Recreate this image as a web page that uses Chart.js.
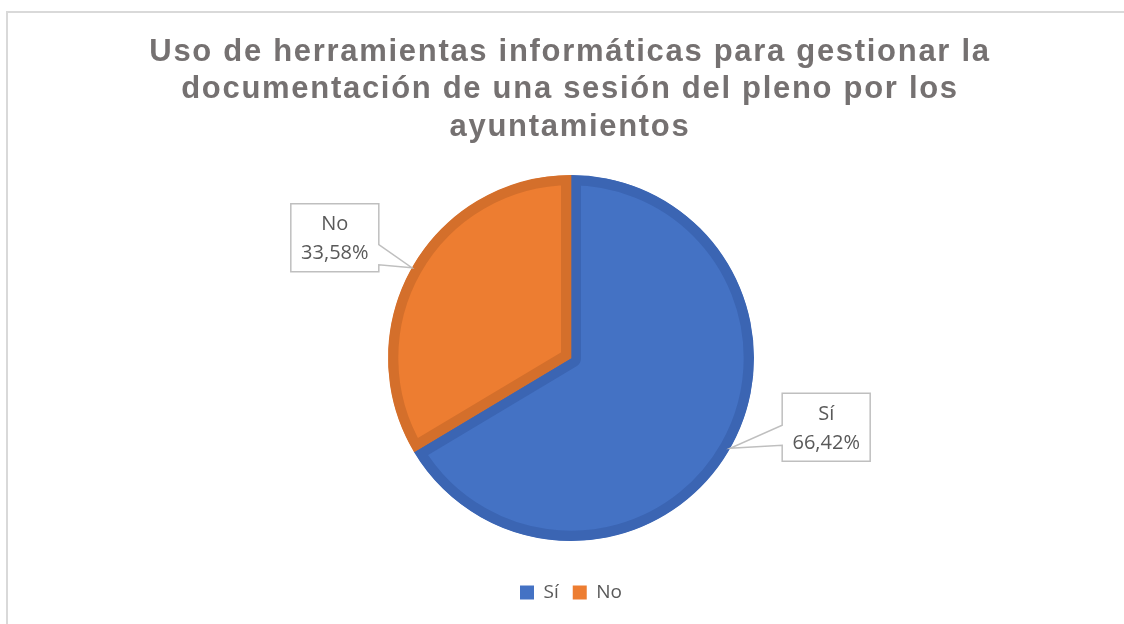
<!DOCTYPE html>
<html>
<head>
<meta charset="utf-8">
<title>Uso de herramientas informáticas</title>
<script src="https://cdn.jsdelivr.net/npm/chart.js@4.4.1/dist/chart.umd.min.js"></script>
<style>
  html, body { margin: 0; padding: 0; background: #fff; }
  canvas { display: block; }
</style>
</head>
<body>
<canvas id="pieChart" width="1124" height="624"></canvas>
<script>
// data
const categories = ['Sí', 'No'];
const percentages = [66.42, 33.58];
const titleLines = [
    'Uso de herramientas informáticas para gestionar la',
    'documentación de una sesión del pleno por los',
    'ayuntamientos'
];

const fillColors = ['#4472C4', '#ED7D31'];
const edgeColors = ['#3B65B3', '#D46F2B'];
const textGrey = '#595959';

// where each callout box sits, relative to the point on the pie edge it points at
const calloutOffsets = [
    { dx: 96, dy: -21 },
    { dx: -77, dy: -30 }
];

function fmtPct(v) {
    return v.toFixed(2).replace('.', ',') + '%';
}

const frameAndTitle = {
    id: 'frameAndTitle',
    beforeDraw(chart) {
        const ctx = chart.ctx;
        ctx.save();
        ctx.fillStyle = '#ffffff';
        ctx.fillRect(0, 0, chart.width, chart.height);
        ctx.strokeStyle = '#d9d9d9';
        ctx.lineWidth = 2;
        ctx.strokeRect(7, 12, chart.width + 20, chart.height + 20);

        ctx.font = 'bold 31px "Liberation Sans", Arial, sans-serif';
        ctx.fillStyle = '#757171';
        ctx.textAlign = 'center';
        ctx.textBaseline = 'middle';
        ctx.letterSpacing = '1.7px';
        titleLines.forEach((line, i) => {
            ctx.fillText(line, 570, 52 + i * 37.5);
        });
        ctx.restore();
    }
};

const callouts = {
    id: 'callouts',
    afterDatasetsDraw(chart) {
        const ctx = chart.ctx;
        const meta = chart.getDatasetMeta(0);
        const w = 88, h = 68;
        meta.data.forEach((arc, i) => {
            const mid = (arc.startAngle + arc.endAngle) / 2;
            const tipX = arc.x + Math.cos(mid) * arc.outerRadius;
            const tipY = arc.y + Math.sin(mid) * arc.outerRadius;
            const cx = tipX + calloutOffsets[i].dx;
            const cy = tipY + calloutOffsets[i].dy;
            const left = cx - w / 2, right = cx + w / 2;
            const top = cy - h / 2, bottom = cy + h / 2;

            let y1 = Math.max(top + 4, Math.min(bottom - 8, tipY - 23));
            let y2 = Math.max(y1 + 6, Math.min(bottom - 5, tipY - 3));

            ctx.save();
            ctx.beginPath();
            ctx.moveTo(left, top);
            ctx.lineTo(right, top);
            if (tipX > right) {
                ctx.lineTo(right, y1);
                ctx.lineTo(tipX, tipY);
                ctx.lineTo(right, y2);
            }
            ctx.lineTo(right, bottom);
            ctx.lineTo(left, bottom);
            if (tipX < left) {
                ctx.lineTo(left, y2);
                ctx.lineTo(tipX, tipY);
                ctx.lineTo(left, y1);
            }
            ctx.closePath();
            ctx.fillStyle = '#ffffff';
            ctx.fill();
            ctx.strokeStyle = '#bfbfbf';
            ctx.lineWidth = 1.5;
            ctx.lineJoin = 'miter';
            ctx.stroke();

            ctx.fillStyle = textGrey;
            ctx.font = '20px "Open Sans", "Noto Sans", sans-serif';
            ctx.textAlign = 'center';
            ctx.textBaseline = 'middle';
            ctx.fillText(categories[i], cx, cy - 13);
            ctx.fillText(fmtPct(percentages[i]), cx, cy + 16);
            ctx.restore();
        });
    }
};

const ctx = document.getElementById('pieChart').getContext('2d');

new Chart(ctx, {
    type: 'pie',
    data: {
        labels: categories,
        datasets: [{
            data: percentages,
            backgroundColor: fillColors,
            borderColor: edgeColors,
            borderWidth: 10,
            borderAlign: 'inner',
            radius: 183
        }]
    },
    options: {
        responsive: false,
        animation: false,
        devicePixelRatio: 1,
        events: [],
        layout: {
            padding: { top: 147, left: 18, right: 0, bottom: 12 }
        },
        plugins: {
            title: { display: false },
            tooltip: { enabled: false },
            legend: {
                position: 'bottom',
                labels: {
                    boxWidth: 14,
                    boxHeight: 14,
                    padding: 14,
                    color: textGrey,
                    font: { family: '"Open Sans", "Noto Sans", sans-serif', size: 19 },
                    generateLabels(chart) {
                        return categories.map((c, i) => ({
                            text: c,
                            fillStyle: fillColors[i],
                            strokeStyle: fillColors[i],
                            lineWidth: 0,
                            fontColor: textGrey,
                            hidden: false,
                            index: i
                        }));
                    }
                }
            }
        }
    },
    plugins: [frameAndTitle, callouts]
});
</script>
</body>
</html>
